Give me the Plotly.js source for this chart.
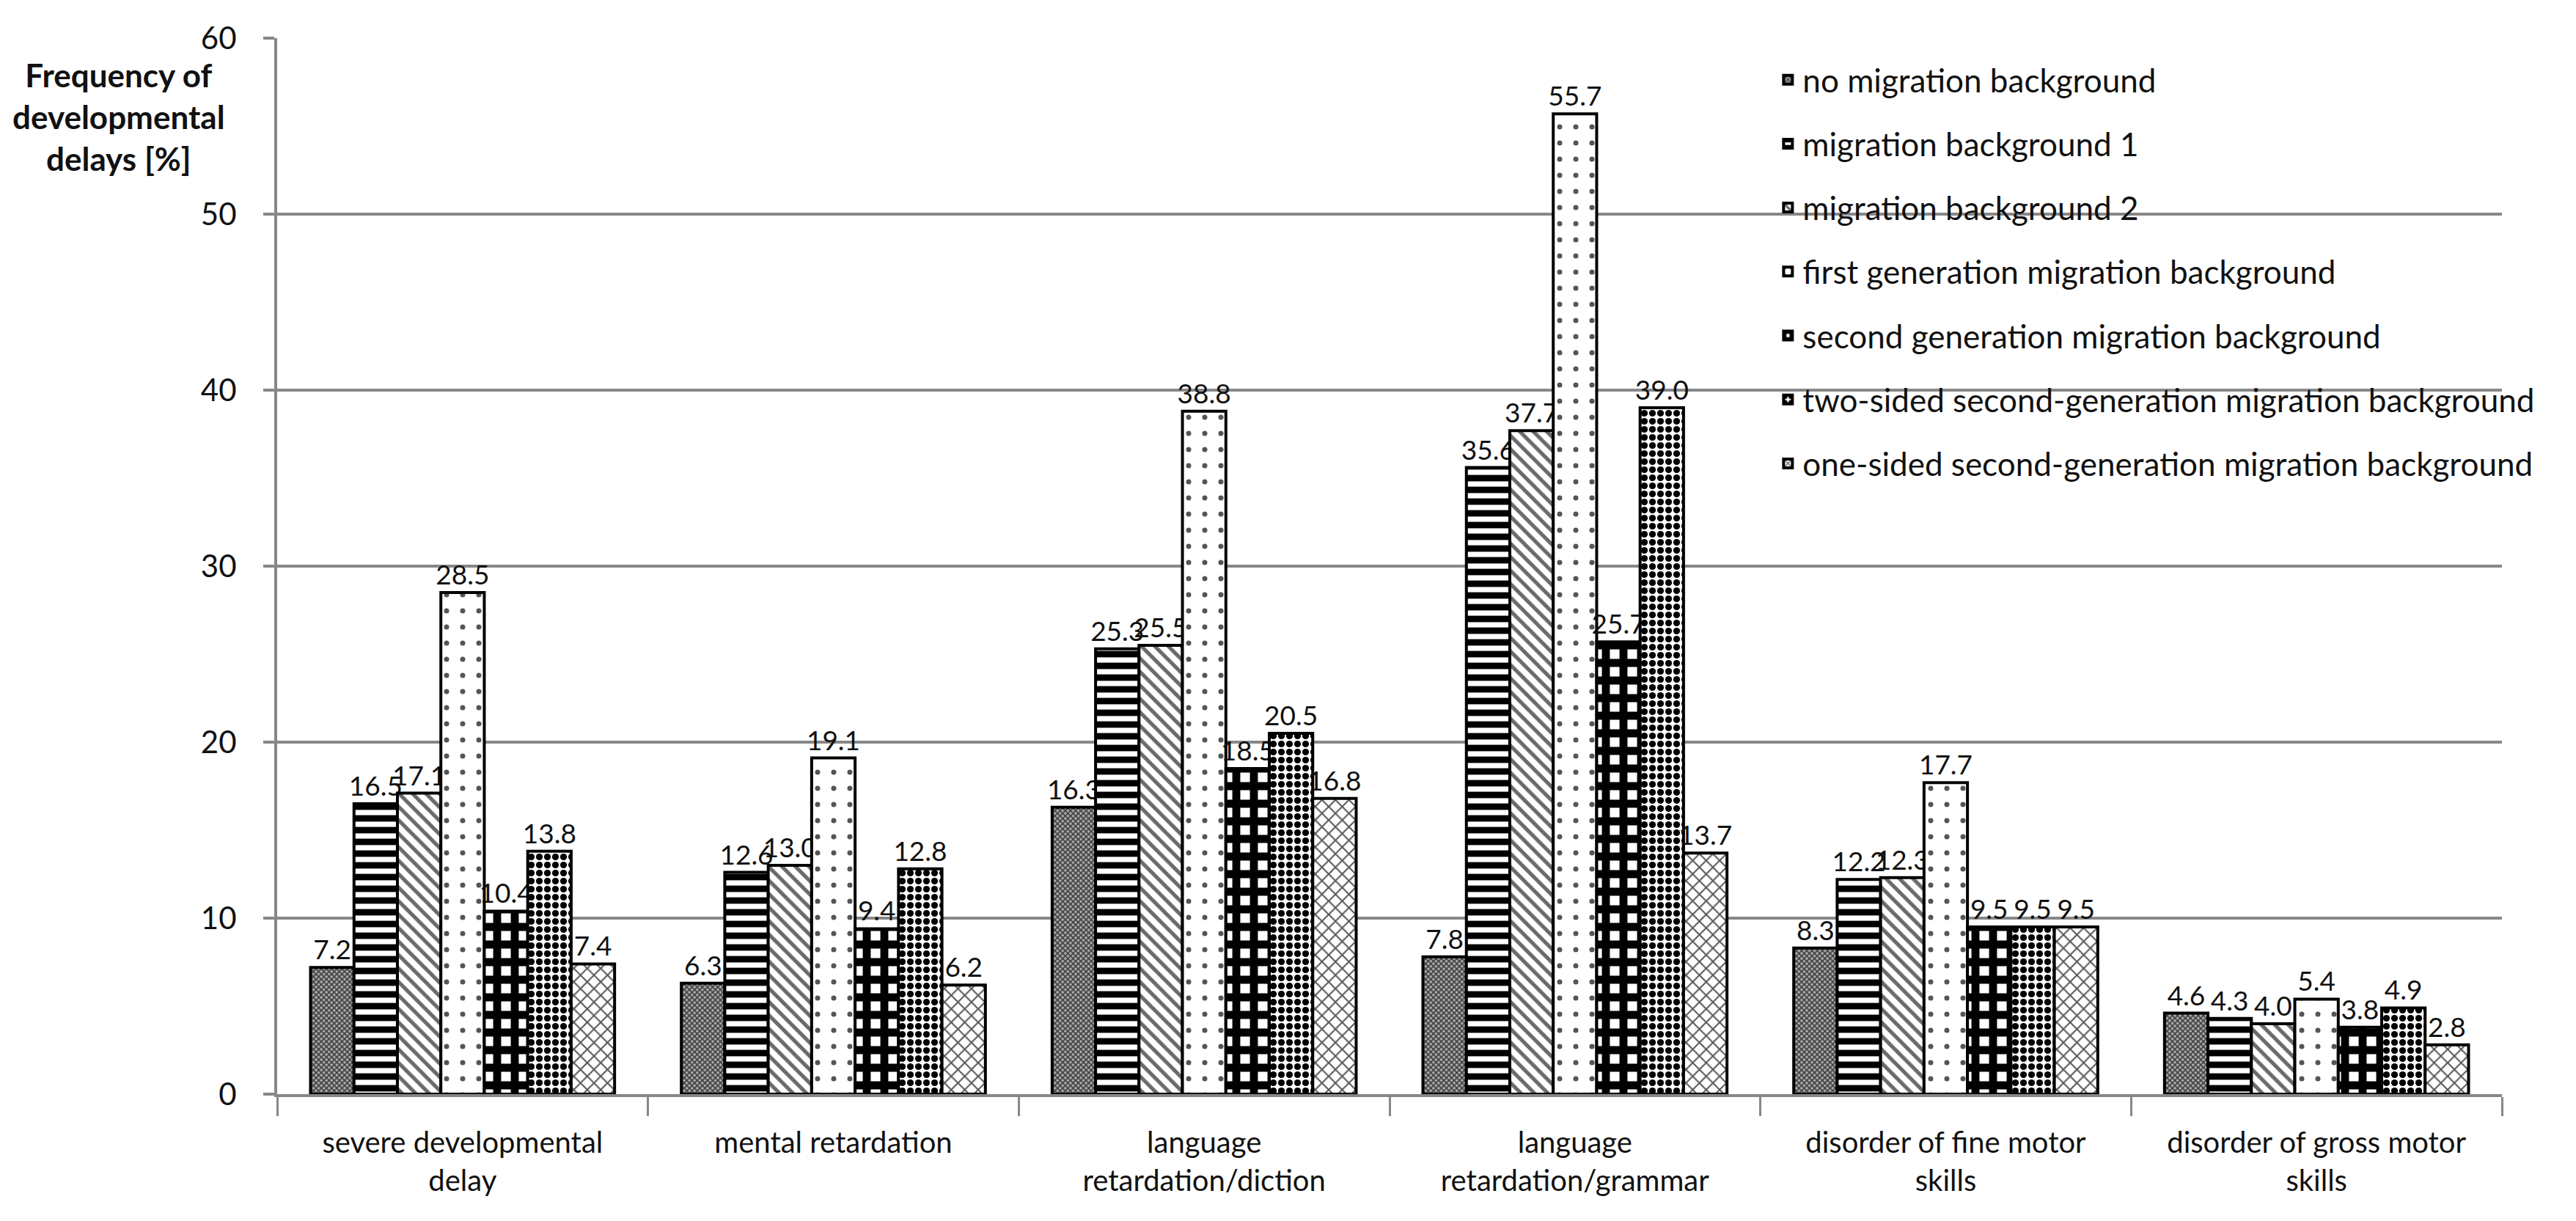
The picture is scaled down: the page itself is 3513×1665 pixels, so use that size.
<!DOCTYPE html>
<html>
<head>
<meta charset="utf-8">
<script src="https://cdn.plot.ly/plotly-3.0.1.min.js"></script>
<style>html,body{margin:0;padding:0;background:#fff;}#chart{width:3513px;height:1665px;}</style>
</head>
<body>
<div id="chart"></div>
<script>
const categories = [
  "severe developmental<br>delay",
  "mental retardation",
  "language<br>retardation/diction",
  "language<br>retardation/grammar",
  "disorder of fine motor<br>skills",
  "disorder of gross motor<br>skills"
];
const seriesNames = [
  "no migration background",
  "migration background 1",
  "migration background 2",
  "first generation migration background",
  "second generation migration background",
  "two-sided second-generation migration background",
  "one-sided second-generation migration background"
];
const noMigration      = [7.2, 6.3, 16.3, 7.8, 8.3, 4.6];
const migration1       = [16.5, 12.6, 25.3, 35.6, 12.2, 4.3];
const migration2       = [17.1, 13.0, 25.5, 37.7, 12.3, 4.0];
const firstGeneration  = [28.5, 19.1, 38.8, 55.7, 17.7, 5.4];
const secondGeneration = [10.4, 9.4, 18.5, 25.7, 9.5, 3.8];
const twoSided         = [13.8, 12.8, 20.5, 39.0, 9.5, 4.9];
const oneSided         = [7.4, 6.2, 16.8, 13.7, 9.5, 2.8];
const yTicks = [0, 10, 20, 30, 40, 50, 60];

const values = [noMigration, migration1, migration2, firstGeneration, secondGeneration, twoSided, oneSided];
const patterns = [
  {shape: "x", fgcolor: "#3a3a3a", bgcolor: "#a8a8a8", size: 5, solidity: 0.5},
  {shape: "-", fgcolor: "#000000", bgcolor: "#ffffff", size: 16, solidity: 0.55},
  {shape: "\\", fgcolor: "#6a6a6a", bgcolor: "#ffffff", size: 13, solidity: 0.4},
  {shape: ".", fgcolor: "#555555", bgcolor: "#ffffff", size: 22, solidity: 0.08},
  {shape: "+", fgcolor: "#000000", bgcolor: "#ffffff", size: 24, solidity: 0.7},
  {shape: ".", fgcolor: "#000000", bgcolor: "#ffffff", size: 11, solidity: 0.55},
  {shape: "x", fgcolor: "#5a5a5a", bgcolor: "#ffffff", size: 13, solidity: 0.3}
];

const FONT = "Lato, 'Liberation Sans', Arial, sans-serif";

const traces = values.map((v, i) => ({
  type: "bar",
  name: seriesNames[i],
  x: categories,
  y: v,
  legendgroup: "g" + i,
  marker: {
    color: patterns[i].bgcolor,
    pattern: patterns[i],
    line: {color: "#000000", width: 4}
  },
  texttemplate: "%{y:.1f}",
  textposition: "outside",
  constraintext: "none",
  cliponaxis: false,
  textfont: {family: FONT, size: 37, color: "#111111"},
  hoverinfo: "skip"
}));

const layout = {
  width: 3513,
  height: 1665,
  margin: {l: 378, r: 101, t: 52, b: 173, pad: 0},
  paper_bgcolor: "#ffffff",
  plot_bgcolor: "#ffffff",
  barmode: "group",
  bargap: 0.18,
  bargroupgap: 0,
  font: {family: FONT, color: "#111111"},
  showlegend: true,
  legend: {
    x: 0.6725, xanchor: "left",
    y: 0.985, yanchor: "top",
    traceorder: "grouped",
    tracegroupgap: 27,
    bgcolor: "rgba(0,0,0,0)",
    font: {family: FONT, size: 44, color: "#111111"}
  },
  xaxis: {
    type: "category",
    showline: true,
    linecolor: "#878787",
    linewidth: 4,
    showgrid: false,
    ticks: "outside",
    tickson: "boundaries",
    ticklen: 26,
    tickwidth: 3,
    tickcolor: "#878787",
    ticklabelstandoff: 28,
    tickfont: {family: FONT, size: 40, color: "#111111"},
    zeroline: false
  },
  yaxis: {
    range: [0, 60],
    tickvals: yTicks,
    ticktext: yTicks.map(String),
    showline: true,
    linecolor: "#878787",
    linewidth: 4,
    showgrid: true,
    gridcolor: "#878787",
    gridwidth: 4,
    ticks: "outside",
    ticklen: 15,
    tickwidth: 4,
    tickcolor: "#878787",
    ticklabelstandoff: 28,
    tickfont: {family: FONT, size: 42, color: "#111111"},
    zeroline: false
  },
  annotations: [{
    xref: "paper", yref: "paper",
    x: -0.0712, y: 0.985,
    xanchor: "center", yanchor: "top",
    align: "center",
    showarrow: false,
    text: "<b>Frequency of<br>developmental<br>delays [%]</b>",
    font: {family: FONT, size: 44, color: "#111111"}
  }]
};

Plotly.newPlot("chart", traces, layout, {displayModeBar: false, staticPlot: true});
</script>
</body>
</html>
